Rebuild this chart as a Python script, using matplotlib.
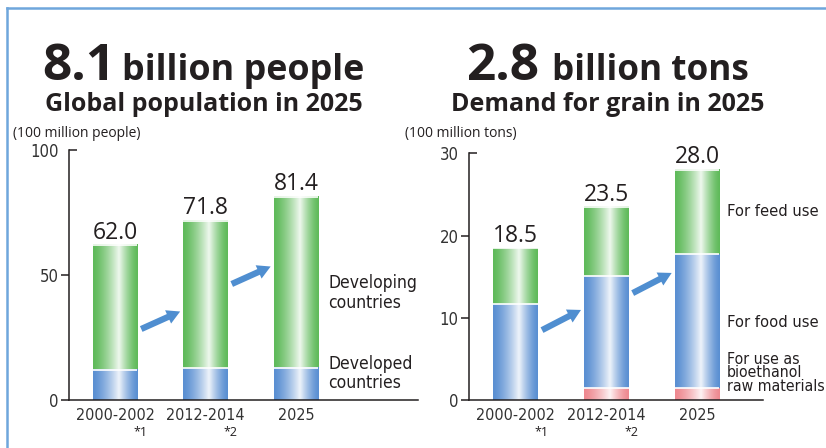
import matplotlib.pyplot as plt
import numpy as np
from matplotlib.colors import to_rgb
from matplotlib.lines import Line2D

# data
periods = ["2000-2002", "2012-2014", "2025"]
notes = ["*1", "*2"]

pop_total = [62.0, 71.8, 81.4]
pop_developed = [12.2, 12.8, 13.0]
pop_developing = [t - d for t, d in zip(pop_total, pop_developed)]

grain_total = [18.5, 23.5, 28.0]
grain_bio = [0.0, 1.4, 1.4]
grain_food = [11.7, 13.7, 16.3]
grain_feed = [t - f - b for t, f, b in zip(grain_total, grain_food, grain_bio)]

TXT = '#231F20'
GREEN = '#5FBA5A'
BLUE = '#5A8FD2'
PINK = '#EE8990'
ARROW = '#4F8ED0'
FRAME = '#6FA6DC'

BODY = 'Open Sans'
NARROW = dict(family='DejaVu Sans', stretch='condensed')


def grad(color, n=80):
    c = np.array(to_rgb(color))
    t = np.linspace(0, 1, n)
    pk = 0.58
    w = np.where(t < pk, t / pk, (1 - t) / (1 - pk)) ** 1.4 * 0.9
    rgb = c[None, :] * (1 - w[:, None]) + w[:, None]
    return rgb[None, :, :]


def seg(ax, x, bottom, h, color, width=0.49):
    if h <= 0:
        return
    ax.imshow(grad(color), extent=[x - width / 2, x + width / 2, bottom, bottom + h],
              aspect='auto', interpolation='bilinear', zorder=2)
    ax.hlines(bottom + h, x - width / 2, x + width / 2, color='white', lw=1.2, zorder=3)


def style_axis(ax, ymax, ymid, xlim):
    for s in ['top', 'right']:
        ax.spines[s].set_visible(False)
    for s in ['left', 'bottom']:
        ax.spines[s].set_color(TXT)
        ax.spines[s].set_linewidth(1.1)
    ax.set_ylim(0, ymax)
    ax.set_xlim(*xlim)
    ax.set_yticks([0] + ymid)
    ax.set_yticks([ymax], minor=True)
    ax.set_yticklabels([str(v) for v in [0] + ymid], fontsize=12, color='#333333', **NARROW)
    ax.set_yticklabels([str(ymax)], minor=True, fontsize=12, color='#333333', **NARROW)
    ax.tick_params(axis='y', which='major', direction='out', length=6, width=1.1, color=TXT, pad=1.5)
    ax.tick_params(axis='y', which='minor', direction='in', length=6, width=1.1, color=TXT, pad=7.5)
    ax.set_xticks(range(len(periods)))
    ax.set_xticklabels(periods, fontsize=11.5, color='#333333', **NARROW)
    ax.tick_params(axis='x', length=0, pad=6)
    for i, n in enumerate(notes):
        ax.annotate(n, xy=(i + 0.28, 0), xycoords=('data', 'axes fraction'),
                    xytext=(0, -26), textcoords='offset points', ha='center', va='baseline',
                    fontsize=9, family=BODY, color=TXT)


def value_labels(ax, totals, bar_tops):
    for i, (t, top) in enumerate(zip(totals, bar_tops)):
        ax.annotate(f"{t:.1f}", xy=(i, top), xytext=(0, 4.5), textcoords='offset points',
                    ha='center', va='baseline', fontsize=16.5, family=BODY, color=TXT)


def arrows(ax, ys, dy):
    for i, y0 in enumerate(ys):
        ax.annotate("", xy=(i + 0.72, y0 + dy), xytext=(i + 0.29, y0),
                    arrowprops=dict(arrowstyle="simple,head_width=1.05,head_length=0.95,tail_width=0.45",
                                    color=ARROW, shrinkA=0, shrinkB=0, lw=0), zorder=4)


fig = plt.figure(figsize=(8.26, 4.48), dpi=100)

# left chart
ax1 = fig.add_axes([69 / 826, 48 / 448, 349 / 826, 250 / 448])
for i in range(3):
    seg(ax1, i, 0, pop_developed[i], BLUE)
    seg(ax1, i, pop_developed[i], pop_developing[i], GREEN)
style_axis(ax1, 100, [50], (-0.508, 3.348))
value_labels(ax1, pop_total, pop_total)
arrows(ax1, [28.4, 46.4], 7.0)
ax1.text(2.354, 42.8, "Developing\ncountries", fontsize=12.5, color=TXT,
         va='center', ha='left', linespacing=1.1, **NARROW)
ax1.text(2.354, 10.5, "Developed\ncountries", fontsize=12.5, color=TXT,
         va='center', ha='left', linespacing=1.1, **NARROW)

# right chart
ax2 = fig.add_axes([469 / 826, 48 / 448, 294 / 826, 246.7 / 448])
for i in range(3):
    seg(ax2, i, 0, grain_bio[i], PINK)
    seg(ax2, i, grain_bio[i], grain_food[i], BLUE)
    seg(ax2, i, grain_bio[i] + grain_food[i], grain_feed[i], GREEN)
style_axis(ax2, 30, [10, 20], (-0.515, 2.727))
value_labels(ax2, grain_total, grain_total)
arrows(ax2, [8.5, 13.0], 2.45)
ax2.text(2.33, 22.9, "For feed use", fontsize=11.8, color=TXT, va='center', ha='left', **NARROW)
ax2.text(2.33, 9.4, "For food use", fontsize=11.8, color=TXT, va='center', ha='left', **NARROW)
ax2.text(2.33, 3.3, "For use as\nbioethanol\nraw materials", fontsize=11.3,
         color=TXT, va='center', ha='left', linespacing=0.9, **NARROW)

# headlines
def H(x, y):
    return x / 826, 1 - y / 448

fig.text(*H(42, 80), "8.1", fontsize=37, fontweight='bold', family=BODY, color=TXT, va='baseline')
fig.text(*H(122, 80), "billion people", fontsize=25.8, fontweight='bold', family=BODY, color=TXT, va='baseline')
fig.text(*H(204, 111), "Global population in 2025", fontsize=18, fontweight='bold', family=BODY,
         color=TXT, va='baseline', ha='center')
fig.text(*H(13, 137), "(100 million people)", fontsize=10, family=BODY, color=TXT, va='baseline')

fig.text(*H(466, 80), "2.8", fontsize=37, fontweight='bold', family=BODY, color=TXT, va='baseline')
fig.text(*H(552, 80), "billion tons", fontsize=25.3, fontweight='bold', family=BODY, color=TXT, va='baseline')
fig.text(*H(608, 111), "Demand for grain in 2025", fontsize=18, fontweight='bold', family=BODY,
         color=TXT, va='baseline', ha='center')
fig.text(*H(405, 137), "(100 million tons)", fontsize=10, family=BODY, color=TXT, va='baseline')

# frame
fig.add_artist(Line2D([7 / 826, 7 / 826], [0, 1 - 8 / 448], color=FRAME, lw=1.8))
fig.add_artist(Line2D([7 / 826, 1], [1 - 8 / 448, 1 - 8 / 448], color=FRAME, lw=1.8))

fig.savefig("out.png", dpi=100)
